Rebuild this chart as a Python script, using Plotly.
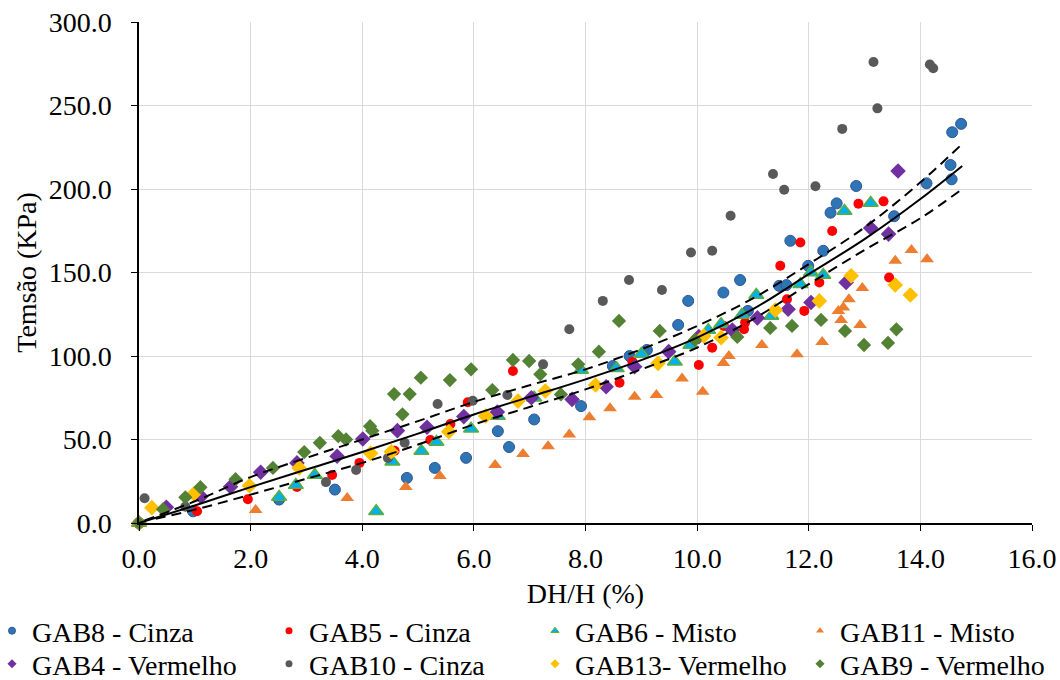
import plotly.graph_objects as go

# ---------------- data ----------------
gab8_x = [0, 0.97, 2.51, 3.51, 4.8, 5.3, 5.86, 6.43, 6.63, 7.08, 7.92, 8.49, 8.79, 9.1, 9.66, 9.84, 10.47, 10.77, 10.91,
          11.47, 11.6, 11.67, 11.99, 12.26, 12.39, 12.5, 12.85, 13.53, 14.11, 14.54, 14.56, 14.57, 14.73]
gab8_y = [0, 7, 14, 20, 27, 33, 39, 55, 45.5, 62, 70, 94, 100, 103.6, 118.6, 133, 138, 145.5, 127,
          142, 142.5, 169, 154, 163, 185.8, 191.4, 201.8, 183.7, 203.4, 214.4, 205.8, 234, 239]

gab5_x = [0, 1.04, 1.95, 2.83, 3.46, 3.95, 4.58, 5.22, 5.58, 5.89, 6.7, 8.61, 8.84, 10.03, 10.27, 10.48, 10.84, 10.86,
          11.49, 11.61, 11.85, 11.92, 12.19, 12.42, 12.89, 13.34, 13.44]
gab5_y = [0, 7, 14.2, 21.6, 28.7, 36, 43.3, 49.7, 59.3, 72.3, 91, 84, 96.6, 94.6, 105, 118, 116, 120,
          154, 134, 168, 127, 144, 174.8, 191.2, 192.6, 147]

gab6_x = [0, 2.51, 2.81, 3.15, 4.25, 4.54, 5.06, 5.33, 5.95, 6.43, 7.08, 7.92, 8.56, 9.0, 9.6, 9.88, 10.2, 10.43,
          10.8, 11.06, 11.33, 11.85, 12.04, 12.26, 12.64, 13.11]
gab6_y = [0, 15.6, 22.7, 28.7, 7, 36.7, 43.1, 48.5, 56.5, 64, 75, 91.6, 92.6, 101.2, 96.6, 106.6, 115.5, 119,
          124.5, 136.5, 124, 143, 150, 148.5, 186.8, 191.6]

gab11_x = [0, 2.09, 3.73, 4.78, 5.39, 6.38, 6.88, 7.33, 7.71, 8.07, 8.44, 8.88, 9.27, 9.73, 10.1, 10.47, 10.57, 11.16,
           11.79, 12.24, 12.53, 12.58, 12.62, 12.72, 12.92, 12.96, 13.55, 13.84, 14.12]
gab11_y = [0, 7.8, 15, 21.6, 28.1, 34.7, 41.3, 46, 53, 63.3, 68.7, 75.6, 76.6, 86.6, 78.6, 95.8, 100, 106.6,
           101, 108.4, 127, 121.6, 129, 134, 118.6, 140.7, 157, 163.5, 158]

gab4_x = [0, 0.49, 1.11, 1.64, 2.18, 2.83, 3.55, 4.01, 4.63, 5.16, 5.82, 6.42, 7.03, 7.76, 8.37, 8.88, 9.49, 10.03,
          10.63, 11.08, 11.63, 12.04, 12.67, 13.11, 13.43, 13.6]
gab4_y = [0, 9.4, 15.8, 21.7, 30.4, 36, 40, 50.3, 55.3, 57.3, 63.7, 66.5, 75, 74, 81.6, 93.6, 102.6, 111.6,
          115.5, 122.8, 128, 132, 144, 176.6, 173, 210.8]

gab10_x = [0, 0.1, 0.83, 3.35, 3.89, 4.46, 4.76, 5.35, 5.98, 6.6, 7.24, 7.71, 8.31, 8.78, 9.37, 9.89, 10.27, 10.6,
           11.36, 11.56, 12.12, 12.6, 13.16, 13.23, 14.17, 14.23]
gab10_y = [0, 14.8, 9.8, 24.5, 31.7, 38.9, 48.1, 71.3, 73.2, 76.6, 95, 116, 133, 145.5, 139.5, 162, 163, 184,
           209, 199.6, 201.6, 236, 276, 248.3, 274.6, 272.3]

gab13_x = [0, 0.23, 0.98, 1.98, 2.87, 4.15, 4.52, 5.55, 6.21, 6.79, 7.28, 8.18, 9.3, 10.12, 10.43, 11.4, 12.19,
           12.76, 13.55, 13.82]
gab13_y = [0, 9.2, 17.4, 22.3, 33, 41.7, 42.7, 54.7, 64.1, 73, 79, 82.6, 95.6, 112, 111, 127.5, 133,
           148, 142.5, 136.5]

gab9_x = [0, 0.43, 0.83, 1.1, 1.73, 2.4, 2.96, 3.24, 3.57, 3.71, 4.14, 4.18, 4.57, 4.72, 4.85, 5.05, 5.57, 5.95,
          6.33, 6.7, 6.99, 7.19, 7.56, 7.87, 8.24, 8.6, 9.33, 9.96, 10.72, 11.31, 11.7, 12.22, 12.65, 12.99, 13.42, 13.57]
gab9_y = [0, 8.2, 15.4, 21.4, 26.2, 33, 42.5, 48, 52, 50, 58, 55.3, 77.2, 65.1, 77.2, 87, 85.6, 92,
          79.6, 97.6, 97, 89, 77, 95, 102.6, 121, 115, 109.6, 111.4, 116.8, 118, 121.6, 115, 106.6, 107.8, 116]

# trend line and bands
fit_x = [0, 1, 2, 3, 4, 5, 6, 7, 8, 9, 10, 11, 12, 13, 14, 14.75]
fit_y = [0, 10.5, 21.5, 32, 42.5, 53.5, 65, 75.5, 86, 97.5, 111, 128, 149, 170, 194, 213.8]
up_x = [0.1, 1, 2, 3, 4, 5, 6, 7, 8, 9, 10, 11, 12, 13, 14, 14.75]
up_y = [1.5, 13, 27.5, 39, 50, 61, 72.5, 82.5, 92, 104, 118, 134.5, 155, 177, 204, 227]
lo_x = [0.3, 1, 2, 3, 4, 5, 6, 7, 8, 9, 10, 11, 12, 13, 14, 14.75]
lo_y = [2.5, 8, 17, 26.5, 36, 47, 59, 69.5, 80, 92, 105, 122, 143, 163.5, 182.5, 200]

x_ticks = [0, 2, 4, 6, 8, 10, 12, 14, 16]
y_ticks = [0, 50, 100, 150, 200, 250, 300]

# ---------------- styles ----------------
series = [
    ("GAB8 - Cinza", gab8_x, gab8_y, "circle", 11, "#2E75B6", "#2F5597", 1),
    ("GAB5 - Cinza", gab5_x, gab5_y, "circle", 10, "#FF0000", "#FF0000", 0),
    ("GAB6 - Misto", gab6_x, gab6_y, "triangle-up", 13, "#00B0F0", "#5BAF38", 1.5),
    ("GAB11 - Misto", gab11_x, gab11_y, "triangle-up", 12, "#ED7D31", "#ED7D31", 0),
    ("GAB4 - Vermelho", gab4_x, gab4_y, "diamond", 12, "#7030A0", "#7030A0", 0),
    ("GAB10 - Cinza", gab10_x, gab10_y, "circle", 10, "#595959", "#595959", 0),
    ("GAB13- Vermelho", gab13_x, gab13_y, "diamond", 12, "#FFC000", "#FFC000", 0),
    ("GAB9 - Vermelho", gab9_x, gab9_y, "diamond", 11, "#548235", "#548235", 0),
]

FONT = "Liberation Serif, Times New Roman, serif"
FS = 28
fig = go.Figure()

for name, xs, ys, sym, size, fill, line, lw in series:
    fig.add_trace(go.Scatter(
        x=xs, y=ys, mode="markers", name=name, showlegend=False, cliponaxis=False,
        marker=dict(symbol=sym, size=size, color=fill, line=dict(color=line, width=lw)),
    ))

fig.add_trace(go.Scatter(x=fit_x, y=fit_y, mode="lines", line=dict(color="black", width=2, shape="spline"),
                         showlegend=False))
fig.add_trace(go.Scatter(x=up_x, y=up_y, mode="lines",
                         line=dict(color="black", width=2, dash="10px,6px", shape="spline"), showlegend=False))
fig.add_trace(go.Scatter(x=lo_x, y=lo_y, mode="lines",
                         line=dict(color="black", width=2, dash="10px,6px", shape="spline"), showlegend=False))

# full-window figure (the body margin is removed after plotting)
W, H = 1060, 680
L, R, T, B = 139, 28, 22, 157
pw = W - L - R
ph = H - T - B

def lx(px):
    return (px - L) / pw

def ly(py):
    return (H - B - py) / ph

# one legend per entry, laid out in a 4x2 grid like the reference
col_left = [-8, 269, 535, 800]
row_mid = [631, 664]
legend_defs = {}
for i, (name, xs, ys, sym, size, fill, line, lw) in enumerate(series):
    key = "legend" if i == 0 else f"legend{i + 1}"
    col, row = i % 4, i // 4
    legend_defs[key] = dict(
        orientation="v", xanchor="left", yanchor="middle",
        x=lx(col_left[col]), y=ly(row_mid[row]),
        bgcolor="rgba(0,0,0,0)", font=dict(family=FONT, size=FS, color="#000000"),
        itemwidth=30,
    )
    fig.add_trace(go.Scatter(
        x=[None], y=[None], mode="markers", name=name, legend=key, showlegend=True,
        marker=dict(symbol=sym, size=7, color=fill, line=dict(color=line, width=min(lw, 1))),
    ))

fig.update_layout(
    width=W, height=H,
    margin=dict(l=L, r=R, t=T, b=B, autoexpand=False),
    paper_bgcolor="white", plot_bgcolor="white",
    font=dict(family=FONT, size=FS, color="#000000"),
    **legend_defs,
    xaxis=dict(
        range=[0, 16], tickvals=x_ticks, ticktext=[f"{v:.1f}" for v in x_ticks],
        showgrid=True, gridcolor="#D9D9D9", gridwidth=1,
        showline=True, linecolor="black", linewidth=1.5, ticks="outside", ticklen=6, tickcolor="black",
        zeroline=False, tickfont=dict(family=FONT, size=FS), ticklabelstandoff=4,
        ticklabeloverflow="allow",
        title=dict(text="DH/H (%)", font=dict(family=FONT, size=FS), standoff=10),
    ),
    yaxis=dict(
        range=[0, 300], tickvals=y_ticks, ticktext=[f"{v:.1f}" for v in y_ticks],
        showgrid=True, gridcolor="#D9D9D9", gridwidth=1,
        showline=True, linecolor="black", linewidth=1.5, ticks="outside", ticklen=6, tickcolor="black",
        zeroline=False, tickfont=dict(family=FONT, size=FS), ticklabelstandoff=14,
        ticklabeloverflow="allow",
        title=dict(text="Temsão (KPa)", font=dict(family=FONT, size=FS), standoff=4),
    ),
)

fig.write_html(
    "out.html",
    config={"displayModeBar": False},
    post_script=("document.documentElement.style.overflow='hidden';"
                 "document.body.style.overflow='hidden';document.body.style.margin='0';"),
)
